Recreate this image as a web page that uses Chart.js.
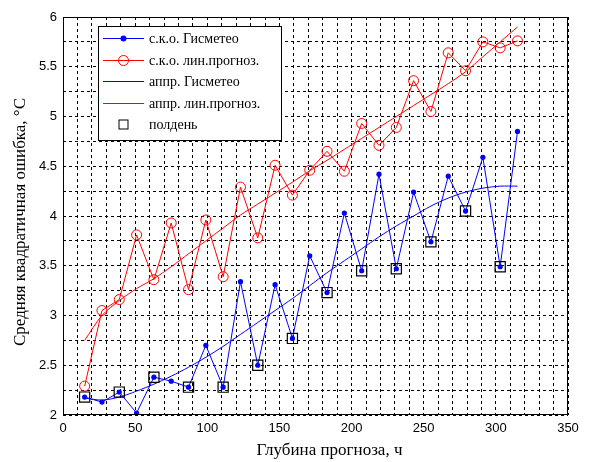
<!DOCTYPE html>
<html>
<head>
<meta charset="utf-8">
<script src="https://cdn.jsdelivr.net/npm/chart.js@4/dist/chart.umd.min.js"></script>
<style>
  html, body { margin: 0; padding: 0; background: #fff; }
  #wrap { width: 589px; height: 462px; position: relative; }
</style>
</head>
<body>
<div id="wrap"><canvas id="c" width="589" height="462"></canvas></div>
<script>
// ---- data ----
const hours = [15,27,39,51,63,75,87,99,111,123,135,147,159,171,183,195,207,219,231,243,255,267,279,291,303,315];
const gismeteo = [2.18,2.13,2.23,2.02,2.38,2.34,2.28,2.70,2.28,3.34,2.50,3.31,2.77,3.60,3.23,4.03,3.45,4.42,3.47,4.24,3.74,4.40,4.05,4.59,3.49,4.85];
const linForecast = [2.29,3.05,3.16,3.81,3.36,3.93,3.26,3.96,3.39,4.29,3.78,4.51,4.21,4.46,4.65,4.45,4.93,4.71,4.89,5.36,5.05,5.64,5.46,5.75,5.69,5.76];
const fitGismeteo = [2.17,2.15,2.18,2.24,2.31,2.39,2.48,2.58,2.69,2.81,2.93,3.05,3.17,3.30,3.43,3.55,3.67,3.79,3.90,4.00,4.10,4.18,4.24,4.28,4.30,4.30];
const fitLin = [2.75,3.00,3.15,3.27,3.37,3.49,3.62,3.75,3.88,4.01,4.12,4.23,4.34,4.455,4.56,4.67,4.78,4.89,5.00,5.11,5.22,5.33,5.45,5.60,5.75,5.90];
const noonHours = [15,39,63,87,111,135,159,183,207,231,255,279,303];

const seriesLabels = ['с.к.о. Гисметео','с.к.о. лин.прогноз.','аппр. Гисметео','аппр. лин.прогноз.','полдень'];
const xTitle = 'Глубина прогноза, ч';
const yTitle = 'Средняя квадратичная ошибка, °С';

const pts = (xs, ys) => xs.map((x, i) => ({x, y: ys[i]}));
const noonPts = noonHours.map(h => ({x: h, y: gismeteo[hours.indexOf(h)]}));

const BLUE = '#0000ff', RED = '#ff0000';
const SERIF = '"Liberation Serif", "Times New Roman", serif';

const framePlugin = {
  id: 'frame',
  afterDatasetsDraw(chart) {
    const {ctx, chartArea: a} = chart;
    ctx.save();
    ctx.setLineDash([]);
    ctx.strokeStyle = '#000';
    ctx.lineWidth = 1;
    ctx.strokeRect(Math.round(a.left) + 0.5, Math.round(a.top) + 0.5,
                   Math.round(a.right - a.left) - 1, Math.round(a.bottom - a.top) - 1);
    ctx.restore();
  }
};

const titlesPlugin = {
  id: 'titles',
  afterDraw(chart) {
    const {ctx, chartArea: a} = chart;
    ctx.save();
    ctx.font = '17px ' + SERIF;
    ctx.fillStyle = '#000';
    ctx.textAlign = 'center';
    ctx.textBaseline = 'middle';
    ctx.fillText(xTitle, (a.left + a.right) / 2 + 14, a.bottom + 36);
    ctx.translate(21, (a.top + a.bottom) / 2 + 6);
    ctx.rotate(-Math.PI / 2);
    ctx.fillText(yTitle, 0, 0);
    ctx.restore();
  }
};

function drawMarker(ctx, style, x, y, color, r) {
  ctx.save();
  ctx.setLineDash([]);
  ctx.lineWidth = 1;
  ctx.strokeStyle = color;
  ctx.fillStyle = color;
  if (style === 'dot') {
    ctx.beginPath(); ctx.arc(x, y, r, 0, Math.PI * 2); ctx.fill();
  } else if (style === 'circle') {
    ctx.beginPath(); ctx.arc(x, y, r, 0, Math.PI * 2); ctx.stroke();
  } else if (style === 'rect') {
    ctx.strokeRect(x - r + 0.5, y - r + 0.5, 2 * r - 1, 2 * r - 1);
  }
  ctx.restore();
}

const legendPlugin = {
  id: 'mlegend',
  afterDraw(chart) {
    const {ctx, chartArea: a} = chart;
    const L = Math.round(a.left) + 35, T = Math.round(a.top) + 9, W = 183, H = 114;
    ctx.save();
    ctx.fillStyle = '#fff';
    ctx.fillRect(L, T, W, H);
    ctx.strokeStyle = '#000';
    ctx.lineWidth = 1;
    ctx.setLineDash([]);
    ctx.strokeRect(L + 0.5, T + 0.5, W, H);
    const entries = [
      {color: BLUE, line: true, marker: 'dot', r: 3},
      {color: RED, line: true, marker: 'circle', r: 5},
      {color: BLUE, line: true, marker: null},
      {color: RED, line: true, marker: null},
      {color: '#000', line: false, marker: 'rect', r: 5}
    ];
    ctx.font = '14px ' + SERIF;
    ctx.textBaseline = 'middle';
    ctx.textAlign = 'left';
    entries.forEach((e, i) => {
      const y = Math.round(T + 12 + i * 21.6) + 0.5;
      const x0 = L + 5, x1 = L + 46, xm = (x0 + x1) / 2;
      if (e.line) {
        ctx.strokeStyle = e.color;
        ctx.beginPath(); ctx.moveTo(x0, y); ctx.lineTo(x1, y); ctx.stroke();
      }
      if (e.marker) drawMarker(ctx, e.marker, xm, y, e.color, e.r);
      ctx.fillStyle = '#000';
      ctx.fillText(chart.data.datasets[i].label, L + 51, y + 1);
    });
    ctx.restore();
  }
};

new Chart(document.getElementById('c'), {
  type: 'line',
  data: {
    datasets: [
      {label: seriesLabels[0], data: pts(hours, gismeteo), borderColor: BLUE, backgroundColor: BLUE,
       borderWidth: 1, pointStyle: 'circle', pointRadius: 2.6, pointBorderWidth: 0, pointBackgroundColor: BLUE, tension: 0, order: 3},
      {label: seriesLabels[1], data: pts(hours, linForecast), borderColor: RED, backgroundColor: 'rgba(0,0,0,0)',
       borderWidth: 1, pointStyle: 'circle', pointRadius: 5, pointBorderWidth: 1, pointBorderColor: RED, pointBackgroundColor: 'rgba(0,0,0,0)', tension: 0, order: 4},
      {label: seriesLabels[2], data: pts(hours, fitGismeteo), borderColor: BLUE, borderWidth: 1, pointRadius: 0, tension: 0.3, order: 2},
      {label: seriesLabels[3], data: pts(hours, fitLin), borderColor: RED, borderWidth: 1, pointRadius: 0, tension: 0.3, order: 2},
      {label: seriesLabels[4], data: noonPts, showLine: false, pointStyle: 'rect', pointRadius: 7.2, pointBorderWidth: 1.2,
       pointBorderColor: '#000', pointBackgroundColor: 'rgba(0,0,0,0)', borderColor: '#000', order: 1}
    ]
  },
  options: {
    responsive: false,
    animation: false,
    devicePixelRatio: 1,
    layout: {padding: {left: 0, right: 21, top: 17, bottom: 0}},
    plugins: {legend: {display: false}, tooltip: {enabled: false}},
    scales: {
      x: {
        type: 'linear', min: 0, max: 350,
        afterFit(s) { s.height = 47; },
        ticks: {stepSize: 10, autoSkip: false, maxRotation: 0, padding: 6, color: '#000',
                font: {family: '"Liberation Sans", Arial, sans-serif', size: 13},
                callback: v => (v % 50 === 0 ? String(v) : '')},
        grid: {color: '#000', lineWidth: 1, drawTicks: false},
        border: {display: false, dash: [3, 3]},
        title: {display: false, text: xTitle}
      },
      y: {
        type: 'linear', min: 2, max: 6,
        afterFit(s) { s.width = 63; },
        ticks: {stepSize: 0.25, autoSkip: false, padding: 6, color: '#000',
                font: {family: '"Liberation Sans", Arial, sans-serif', size: 13},
                callback: v => (Math.abs(v * 2 - Math.round(v * 2)) < 1e-9 ? String(v) : '')},
        grid: {color: '#000', lineWidth: 1, drawTicks: false},
        border: {display: false, dash: [3, 3]},
        title: {display: false, text: yTitle}
      }
    }
  },
  plugins: [framePlugin, legendPlugin, titlesPlugin]
});
</script>
</body>
</html>
